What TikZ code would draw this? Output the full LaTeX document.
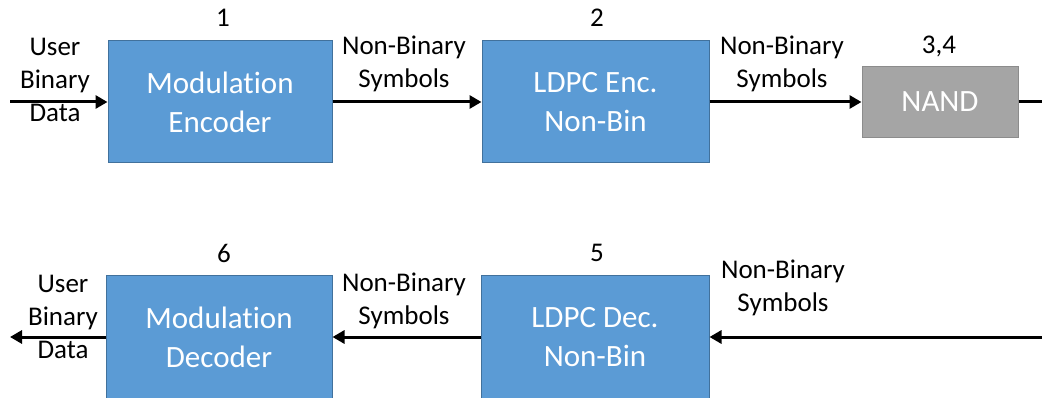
\documentclass[tikz,border=0pt]{standalone}
\usepackage{fontspec}
\setmainfont{Carlito}[Ligatures=NoCommon]
\usetikzlibrary{arrows.meta}
\definecolor{blockblue}{HTML}{5B9BD5}
\definecolor{blockedge}{HTML}{41719C}
\definecolor{nandgray}{HTML}{A5A5A5}
\definecolor{nandedge}{HTML}{8C8C8C}
\tikzset{
  block/.style={draw=blockedge, fill=blockblue, line width=1pt, text=white,
    font=\fontsize{31}{39}\selectfont, align=center, inner sep=0pt},
  nandbox/.style={draw=nandedge, fill=nandgray, line width=1pt, text=white,
    font=\fontsize{31}{39}\selectfont, inner sep=0pt,
    minimum width=156pt, minimum height=71pt},
  tag/.style={font=\fontsize{27}{33}\selectfont, align=center, inner sep=0pt},
  flow/.style={line width=3pt, -{Triangle[length=12pt,width=13pt]}},
  plain/.style={line width=3pt}
}
\begin{document}
\begin{tikzpicture}[x=1pt,y=-1pt]
\useasboundingbox (0,0) rectangle (1042,398);
\clip (0,0) rectangle (1042,398);

% transmit chain
\node[block, minimum width=224pt, minimum height=122pt] (menc) at (220,102) {Modulation\\Encoder};
\node[block, minimum width=227pt, minimum height=122pt] (lenc) at (595.5,102) {LDPC Enc.\\Non-Bin};
\node[nandbox] (nand) at (940,102) {NAND};

% receive chain
\node[block, minimum width=226pt, minimum height=122pt] (mdec) at (219,337) {Modulation\\Decoder};
\node[block, minimum width=228pt, minimum height=122pt] (ldec) at (595,337) {LDPC Dec.\\Non-Bin};

% stage numbers
\node[tag] (n1) at (223,18) {1};
\node[tag] (n2) at (597,18) {2};
\node[tag] (n34) at (939,46) {3,4};
\node[tag] (n6) at (224,253) {6};
\node[tag] (n5) at (597,253) {5};

% free ends
\coordinate (userin) at (10,102);
\coordinate (nandout) at (1042,102);
\coordinate (readin) at (1042,337);
\coordinate (userout) at (10,337);

% connectors
\draw[flow] (userin) -- (menc);
\draw[flow] (menc) -- (lenc);
\draw[flow] (lenc) -- (nand);
\draw[plain] (nand) -- (nandout);
\draw[flow] (readin) -- (ldec);
\draw[flow] (ldec) -- (mdec);
\draw[flow] (mdec) -- (userout);

% connector labels
\node[tag] (l1) at (55,80) {User\\Binary\\Data};
\node[tag] (l2) at (404,64) {Non-Binary\\Symbols};
\node[tag] (l3) at (782,64) {Non-Binary\\Symbols};
\node[tag] (l4) at (783,288) {Non-Binary\\Symbols};
\node[tag] (l5) at (404,301) {Non-Binary\\Symbols};
\node[tag] (l6) at (63,317) {User\\Binary\\Data};
\end{tikzpicture}
\end{document}
